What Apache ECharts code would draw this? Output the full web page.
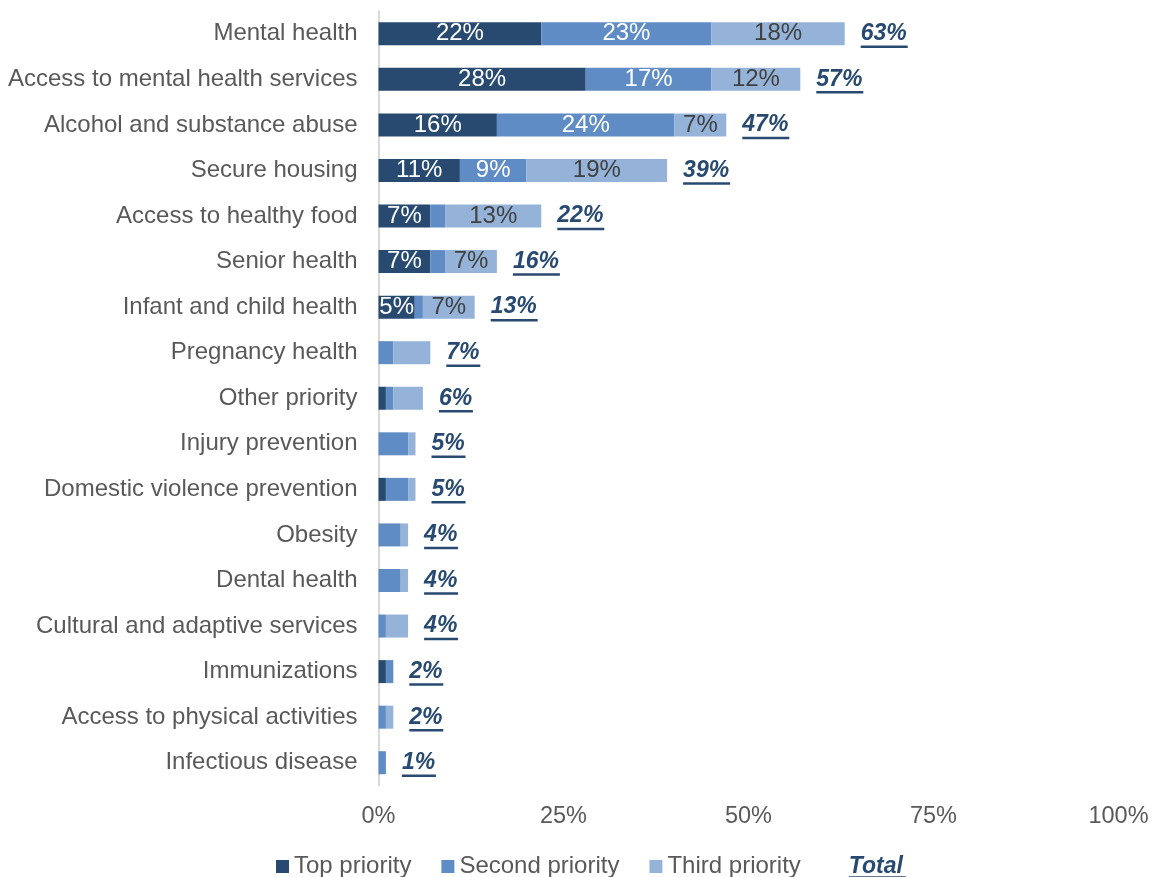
<!DOCTYPE html>
<html>
<head>
<meta charset="utf-8">
<script src="https://cdn.jsdelivr.net/npm/echarts@6/dist/echarts.min.js"></script>
<style>html,body{margin:0;padding:0;background:#fff}#c{width:1154px;height:877px}</style>
</head>
<body>
<div id="c"></div>
<script>
var categories = ["Mental health","Access to mental health services","Alcohol and substance abuse","Secure housing","Access to healthy food","Senior health","Infant and child health","Pregnancy health","Other priority","Injury prevention","Domestic violence prevention","Obesity","Dental health","Cultural and adaptive services","Immunizations","Access to physical activities","Infectious disease"];
var topPriority =    [22, 28, 16, 11, 7, 7, 4.9, 0, 1, 0, 1, 0, 0, 0, 1, 0, 0];
var secondPriority = [23, 17, 24,  9, 2, 2, 1.1, 2, 1, 4, 3, 3, 3, 1, 1, 1, 1];
var thirdPriority =  [18, 12,  7, 19, 13, 7, 7, 5, 4, 1, 1, 1, 1, 3, 0, 1, 0];
var xTicks = [0, 25, 50, 75, 100];

var totals = categories.map(function(c, i){ return topPriority[i] + secondPriority[i] + thirdPriority[i]; });

var NAVY = '#284a70', MID = '#5f8cc4', LIGHT = '#95b3d8', GRAY = '#595959';
var FS = 24;
var FONT = '"Liberation Sans", Arial, sans-serif';

function segSeries(name, data, color, labelColor, minShow){
  return {
    name: name, type: 'bar', stack: 'p', data: data, barWidth: 23, barGap: '-100%',
    itemStyle: { color: color },
    emphasis: { disabled: true },
    label: { show: true, position: 'inside',
      formatter: function(p){ return p.value >= minShow ? Math.round(p.value) + '%' : ''; },
      color: labelColor, fontSize: FS, fontFamily: FONT, textBorderWidth: 0 }
  };
}

var chart = echarts.init(document.getElementById('c'), null, { renderer: 'canvas' });
chart.setOption({
  animation: false,
  textStyle: { fontFamily: FONT },
  grid: { left: 378.5, right: 35.5, top: 11, bottom: 91.5, containLabel: false },
  xAxis: {
    type: 'value', min: xTicks[0], max: xTicks[xTicks.length - 1], interval: 25,
    axisLine: { show: false }, axisTick: { show: false }, splitLine: { show: false },
    axisLabel: { formatter: '{value}%', color: GRAY, fontSize: 23.5, fontFamily: FONT, margin: 19 }
  },
  yAxis: {
    type: 'category', data: categories, inverse: true,
    axisLine: { show: true, lineStyle: { color: '#d9d9d9', width: 2 } },
    axisTick: { show: false },
    axisLabel: { color: GRAY, fontSize: FS, fontFamily: FONT, margin: 21 }
  },
  legend: {
    left: 271, top: 846, itemWidth: 13, itemHeight: 13, itemGap: 30,
    icon: 'rect',
    textStyle: { color: GRAY, fontSize: FS, fontFamily: FONT,
      rich: {
        t: { fontSize: 23, fontWeight: 'bold', fontStyle: 'italic', color: NAVY, fontFamily: FONT, lineHeight: 22, padding: [4, 0, 0, 0] },
        u: { width: 57, height: 2.5, lineHeight: 4, backgroundColor: NAVY }
      }
    },
    formatter: function(n){ return n === 'Total' ? '{t|Total}\n{u|}' : n; },
    data: ['Top priority', 'Second priority', 'Third priority', 'Total']
  },
  series: [
    segSeries('Top priority', topPriority, NAVY, '#ffffff', 4.5),
    segSeries('Second priority', secondPriority, MID, '#ffffff', 6),
    segSeries('Third priority', thirdPriority, LIGHT, '#404040', 6),
    {
      name: 'Total', type: 'bar', data: totals, barWidth: 23, barGap: '-100%', z: 1,
      itemStyle: { color: 'rgba(0,0,0,0)' },
      emphasis: { disabled: true },
      label: {
        show: true, position: 'right', distance: 16, offset: [0, 2],
        formatter: function(p){ var s = Math.round(p.value) + '%'; return '{t|' + s + '}\n{' + (s.length > 2 ? 'u2' : 'u1') + '|}'; },
        rich: {
          t: { fontSize: 23, fontWeight: 'bold', fontStyle: 'italic', color: NAVY, fontFamily: FONT, lineHeight: 22 },
          u1: { width: 34, height: 2.5, lineHeight: 4, backgroundColor: NAVY },
          u2: { width: 47, height: 2.5, lineHeight: 4, backgroundColor: NAVY }
        }
      }
    }
  ]
});
</script>
</body>
</html>
